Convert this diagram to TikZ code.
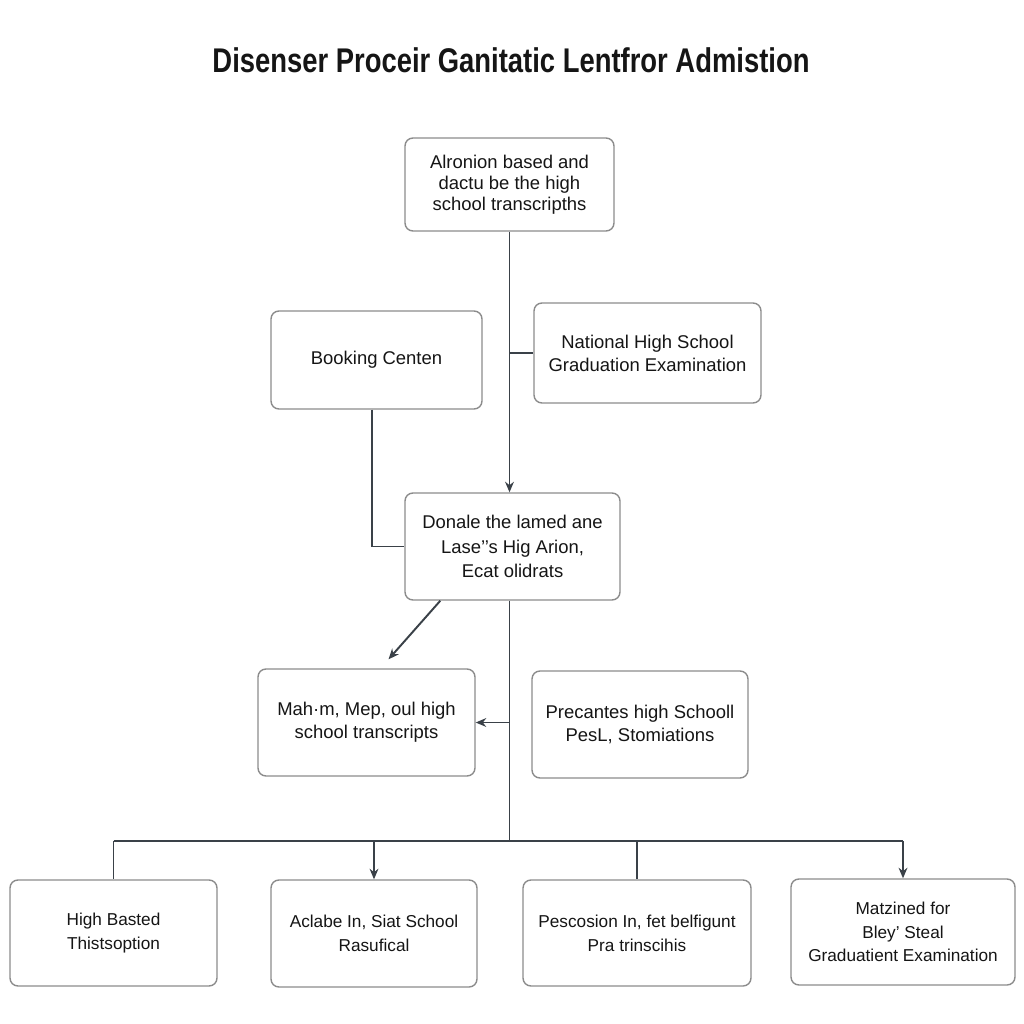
\documentclass[tikz,border=0pt]{standalone}
\usepackage{fontspec}
\setmainfont{Liberation Sans}
\newfontfamily\titlefont[FakeStretch=0.8]{Liberation Sans}
\usetikzlibrary{arrows.meta,calc}
\definecolor{boxgray}{HTML}{8C8C8C}
\definecolor{linegray}{HTML}{3A4148}
\definecolor{inkblack}{HTML}{151515}

\begin{document}
\begin{tikzpicture}[x=0.02cm, y=-0.02cm,
    stepbox/.style={draw=boxgray, line width=0.8pt, rounded corners=4.5pt, align=center,
        inner sep=0pt, text=inkblack, font=\fontsize{10.5}{13}\selectfont},
    link/.style={draw=linegray, line width=1.1pt},
    arr/.style={link, -{Stealth[length=6pt, width=5pt]}}]
    \useasboundingbox[fill=white] (0,0) rectangle (1024,1024);

    % Draw title
    \node[text=inkblack, font=\titlefont\bfseries\fontsize{19.5}{22}\selectfont] (title) at (511, 60)
        {Disenser Proceir Ganitatic Lentfror Admistion};

    % Draw upper boxes
    \node[stepbox, minimum width=4.18cm, minimum height=1.86cm, font=\fontsize{10.5}{12}\selectfont] (top) at (509.5, 184.5)
        {Alronion based and\\dactu be the high\\school transcripths};
    \node[stepbox, minimum width=4.22cm, minimum height=1.96cm] (booking) at (376.5, 360) {Booking Centen};
    \node[stepbox, minimum width=4.54cm, minimum height=2.0cm] (national) at (647.5, 353)
        {National High School\\Graduation Examination};

    % Draw middle boxes
    \node[stepbox, minimum width=4.3cm, minimum height=2.14cm, font=\fontsize{10.5}{14}\selectfont] (middle) at (512.5, 546.5)
        {Donale the lamed ane\\Lase'{}'s Hig Arion,\\Ecat olidrats};
    \node[stepbox, minimum width=4.34cm, minimum height=2.14cm] (mah) at (366.5, 722.5)
        {Mah\textperiodcentered m, Mep, oul high\\school transcripts};
    \node[stepbox, minimum width=4.32cm, minimum height=2.14cm] (precantes) at (640, 724.5)
        {Precantes high Schooll\\PesL, Stomiations};

    % Draw bottom boxes
    \node[stepbox, minimum width=4.14cm, minimum height=2.12cm, font=\fontsize{9.8}{13.5}\selectfont] (high) at (113.5, 933)
        {High Basted\\Thistsoption};
    \node[stepbox, minimum width=4.12cm, minimum height=2.14cm, font=\fontsize{9.8}{13.5}\selectfont] (aclabe) at (374, 933.5)
        {Aclabe In, Siat School\\Rasufical};
    \node[stepbox, minimum width=4.56cm, minimum height=2.12cm, font=\fontsize{9.8}{13.5}\selectfont] (pescosion) at (637, 933)
        {Pescosion In, fet belfigunt\\Pra trinscihis};
    \node[stepbox, minimum width=4.48cm, minimum height=2.12cm, font=\fontsize{9.8}{13.5}\selectfont] (matzined) at (903, 932)
        {Matzined for\\Bley' Steal\\Graduatient Examination};

    % Draw communication lines
    \coordinate (bus) at (508, 841);
    \draw[arr] (top.south) -- (top.south |- middle.north);
    \draw[link] (top.south |- national.west) -- (national.west);
    \draw[link] (booking.south -| 372, 0) |- (middle.west);
    \draw[arr] ($(middle.south west)+(36,0)$) -- ($(mah.north)+(22,-9)$);
    \draw[link] (top.south |- middle.south) -- (top.south |- bus);
    \draw[arr] (top.south |- mah.east) -- (mah.east);

    \draw[link] (high.north |- bus) -- (matzined.north |- bus);
    \draw[link] (high.north |- bus) -- (high.north);
    \draw[arr] (aclabe.north |- bus) -- (aclabe.north);
    \draw[link] (pescosion.north |- bus) -- (pescosion.north);
    \draw[arr] (matzined.north |- bus) -- (matzined.north);
\end{tikzpicture}
\end{document}
